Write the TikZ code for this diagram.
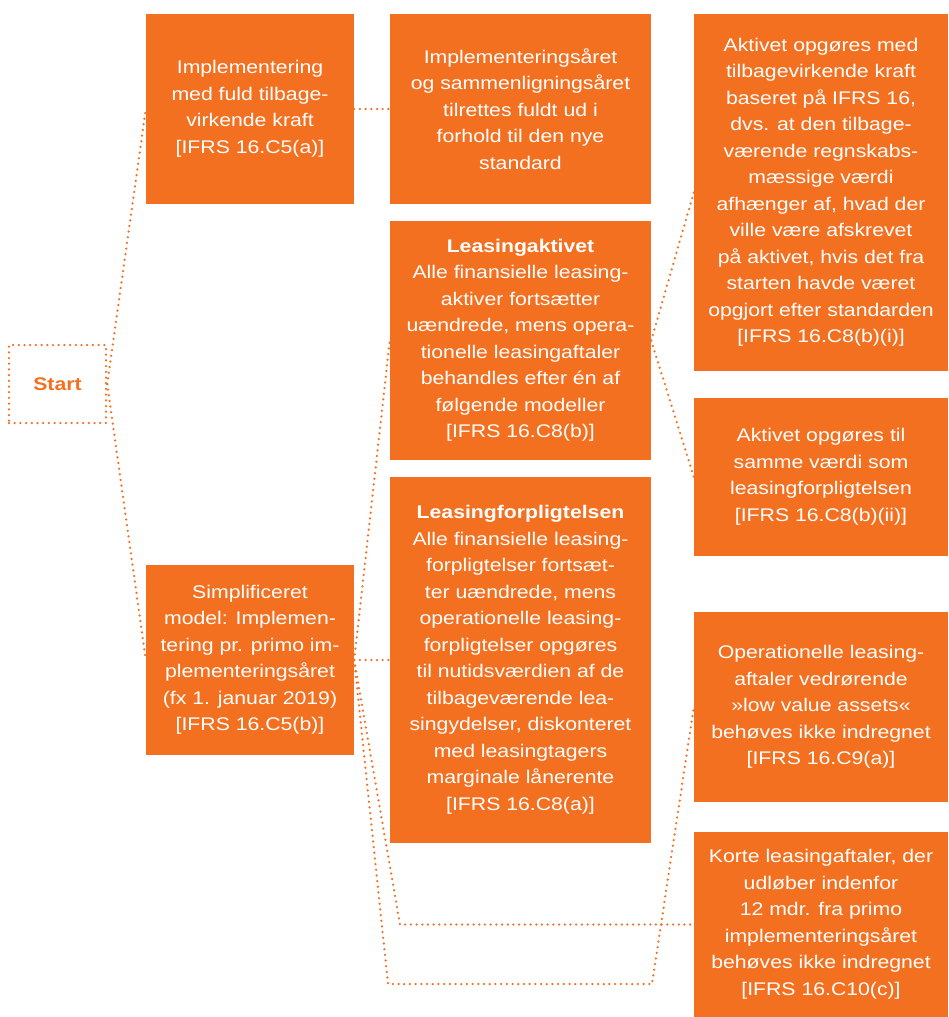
\documentclass[tikz,border=0pt]{standalone}
\usepackage{fontspec}
\setmainfont{Liberation Sans}[FakeStretch=1.16]
\definecolor{org}{HTML}{F37021}
\begin{document}
\begin{tikzpicture}[x=1pt,y=-1pt,
  box/.style={fill=org, text=white, align=center, inner sep=0pt, anchor=center,
    font=\fontsize{18.3}{26.5}\selectfont},
  conn/.style={draw=org, line width=2.5pt, dash pattern=on 0pt off 5.7pt, line cap=round}]
\useasboundingbox (0,0) rectangle (948,1017);

\node[conn, text=org, font=\fontsize{18.3}{26.5}\selectfont\bfseries,
  minimum width=97pt, minimum height=78pt, inner sep=0pt] (S) at (57.5,384) {Start};

\node[box, minimum width=208pt, minimum height=190pt] (A) at (250,109)
  {Implementering\\med fuld tilbage-\\virkende kraft\\{[}IFRS 16.C5(a)]};
\node[box, minimum width=261pt, minimum height=190pt] (B) at (520.5,109)
  {Implementeringsåret\\og sammenligningsåret\\tilrettes fuldt ud i\\forhold til den nye\\standard};
\node[box, minimum width=261pt, minimum height=239pt] (C) at (520.5,340.5)
  {\textbf{Leasingaktivet}\\Alle finansielle leasing-\\aktiver fortsætter\\uændrede, mens opera-\\tionelle leasingaftaler\\behandles efter én af\\følgende modeller\\{[}IFRS 16.C8(b)]};
\node[box, minimum width=261pt, minimum height=366pt] (D) at (520.5,660)
  {\textbf{Leasingforpligtelsen}\\Alle finansielle leasing-\\forpligtelser fortsæt-\\ter uændrede, mens\\operationelle leasing-\\forpligtelser opgøres\\til nutidsværdien af de\\tilbageværende lea-\\singydelser, diskonteret\\med leasingtagers\\marginale lånerente\\{[}IFRS 16.C8(a)]};
\node[box, minimum width=208pt, minimum height=190pt] (E) at (250,660)
  {Simplificeret\\model: Implemen-\\tering pr. primo im-\\plementeringsåret\\(fx 1. januar 2019)\\{[}IFRS 16.C5(b)]};
\node[box, minimum width=254pt, minimum height=357pt] (R1) at (821,192.5)
  {Aktivet opgøres med\\tilbagevirkende kraft\\baseret på IFRS 16,\\dvs. at den tilbage-\\værende regnskabs-\\mæssige værdi\\afhænger af, hvad der\\ville være afskrevet\\på aktivet, hvis det fra\\starten havde været\\opgjort efter standarden\\{[}IFRS 16.C8(b)(i)]};
\node[box, minimum width=254pt, minimum height=158pt] (R2) at (821,477)
  {Aktivet opgøres til\\samme værdi som\\leasingforpligtelsen\\{[}IFRS 16.C8(b)(ii)]};
\node[box, minimum width=254pt, minimum height=190pt] (R3) at (821,707)
  {Operationelle leasing-\\aftaler vedrørende\\»low value assets«\\behøves ikke indregnet\\{[}IFRS 16.C9(a)]};
\node[box, minimum width=254pt, minimum height=185pt] (R4) at (821,924.5)
  {Korte leasingaftaler, der\\udløber indenfor\\12 mdr. fra primo\\implementeringsåret\\behøves ikke indregnet\\{[}IFRS 16.C10(c)]};

\coordinate (k1) at (400,924.5);
\coordinate (k2) at (388,984);
\coordinate (k3) at (652,984);

\draw[conn] (S.east) -- (A.west);
\draw[conn] (S.east) -- (E.west);
\draw[conn] (A.east) -- (B.west);
\draw[conn] (E.east) -- (C.west);
\draw[conn] (E.east) -- (D.west);
\draw[conn] (E.east) -- (k1) -- (R4.west);
\draw[conn] (E.east) -- (k2) -- (k3) -- (R3.west);
\draw[conn] (C.east) -- (R1.west);
\draw[conn] (C.east) -- (R2.west);
\end{tikzpicture}
\end{document}
